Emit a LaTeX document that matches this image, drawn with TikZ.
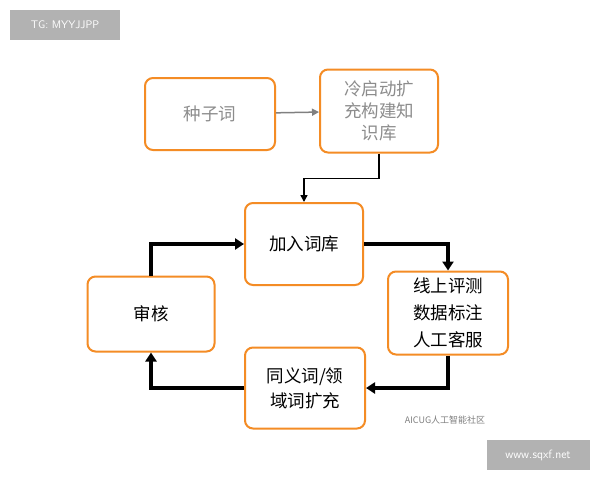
\documentclass[tikz,border=0pt]{standalone}
\usepackage{fontspec}
\newfontfamily\cjk{Noto Sans CJK SC}
\usetikzlibrary{arrows.meta}
\begin{document}
\begin{tikzpicture}[x=1pt,y=-1pt,
  box/.style={draw=orange!80!brown!90, line width=2pt, rounded corners=8pt, fill=white, align=center, font=\cjk\fontsize{17.5}{22}\selectfont},
  thick arrow/.style={line width=3.5pt, -{Triangle[length=9pt,width=11pt]}},
  thin arrow/.style={line width=1.5pt, -{Triangle[length=7pt,width=7pt]}}]
\useasboundingbox (0,0) rectangle (600,480);
\fill[white] (0,0) rectangle (600,480);
\node[fill=gray!60, text=white, minimum width=110pt, minimum height=30pt, font=\sffamily\fontsize{11}{13}\selectfont] (tg) at (65,25) {TG: MYYJJPP};
\node[fill=gray!60, text=white, minimum width=103pt, minimum height=30pt, font=\sffamily\fontsize{12}{14}\selectfont] (wm) at (538,455) {www.sqxf.net};
\node[text=gray, font=\cjk\fontsize{9}{11}\selectfont] (ai) at (445,420) {AICUG人工智能社区};
\node[box, text=gray!90, minimum width=130pt, minimum height=72pt] (seed) at (210,114) {种子词};
\node[box, text=gray!90, minimum width=118pt, minimum height=83pt] (cold) at (379,111) {冷启动扩\\充构建知\\识库};
\node[box, minimum width=118pt, minimum height=82pt] (add) at (304,244) {加入词库};
\node[box, minimum width=120pt, minimum height=83pt, font=\cjk\fontsize{17.5}{27}\selectfont] (online) at (448,313) {线上评测\\数据标注\\人工客服};
\node[box, minimum width=120pt, minimum height=81pt, font=\cjk\fontsize{17.5}{25}\selectfont] (syn) at (305,388) {同义词/领\\域词扩充};
\node[box, minimum width=127pt, minimum height=75pt] (rev) at (151,314) {审核};
\draw[thin arrow, gray] (seed) -- (cold);
\draw[thin arrow] (cold.south) -- ++(0,25) -| (add.north);
\draw[thick arrow] (add.east) -| (online.north);
\draw[thick arrow] (online.south) |- (syn.east);
\draw[thick arrow] (syn.west) -| (rev.south);
\draw[thick arrow] (rev.north) |- (add.west);
\end{tikzpicture}
\end{document}
